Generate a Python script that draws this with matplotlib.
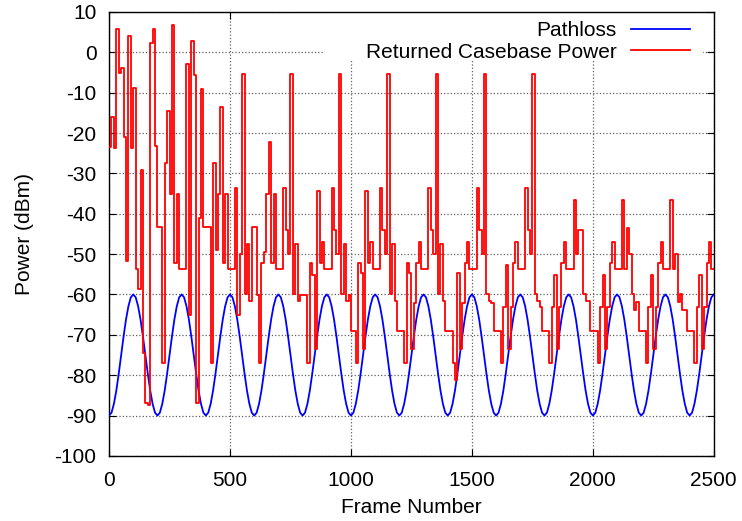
import numpy as np
import matplotlib
matplotlib.use('Agg')
import matplotlib.pyplot as plt
from matplotlib.patches import Rectangle

plt.rcParams['font.family'] = ['Liberation Sans', 'DejaVu Sans']
plt.rcParams['axes.unicode_minus'] = False

# pathloss over one 200-frame cycle, sampled every 10 frames (repeats across the run)
pathloss_cycle = [-90, -89.3, -87.1, -83.8, -79.6, -75, -70.4, -66.2, -62.9, -60.7,
                  -60, -60.7, -62.9, -66.2, -70.4, -75, -79.6, -83.8, -87.1, -89.3]

# returned casebase power, one value per 10 frames, frames 0..2490
casebase_power = [
    -23.4, -16, -23.8, 5.8, -5.2, -4, -21, -51.6, 4.1, -23.6,
    -8.9, -53.6, -58.6, -29.2, -74.6, -87, -87.3, 2.2, 5.8, -23.2,
    -43.2, -43.2, -77, -27.5, -14.5, -35, 6.8, -52.3, -35, -53.6,
    -53.6, -53.6, -3, -65, 2.8, -5.5, -87, -41, -9, -43.2,
    -43.2, -43.2, -77, -27.5, -49, -35, -13.5, -52.3, -35, -53.6,
    -53.6, -53.6, -33.6, -65, -50, -5.4, -59.8, -47.4, -61.7, -43.2,
    -43.2, -60.2, -77, -52.3, -49.4, -35, -22.1, -52.3, -35.2, -53.6,
    -53.6, -53.6, -33.6, -44, -50, -5.4, -59.8, -47.4, -61.7, -60.2,
    -60.2, -60.2, -77, -52.3, -55.2, -73.4, -34.4, -52.3, -47, -53.6,
    -53.6, -53.6, -33.6, -44, -50, -5.4, -59.8, -47.4, -61.7, -60.2,
    -69, -69, -77, -52.3, -54.8, -73.4, -34.4, -52.3, -47, -53.6,
    -53.6, -53.6, -33.6, -44, -50, -5.4, -59.8, -47.4, -61.7, -69,
    -69, -69, -77, -52.3, -54.8, -73.4, -62, -52.3, -47, -53.6,
    -53.6, -53.6, -33.6, -44, -50, -5.4, -59.8, -47.4, -61.7, -69,
    -69, -69, -77, -81.2, -54.8, -73.4, -62, -52.3, -47, -53.6,
    -53.6, -53.6, -33.6, -44, -50, -5.4, -59.8, -61.7, -62, -69,
    -69, -69, -77, -63, -52.7, -73.4, -63, -52.3, -47, -53.6,
    -53.6, -53.6, -33.6, -44, -50, -5.4, -59.8, -61.7, -63, -69,
    -69, -69, -77, -63, -55.2, -73.4, -63, -52.3, -47, -53.6,
    -53.6, -53.6, -36.6, -50, -44, -44, -59.8, -61.7, -61.7, -69,
    -69, -69, -77, -63, -55.2, -73.4, -63, -52.3, -47, -53.6,
    -53.6, -53.6, -36.6, -53.6, -43.6, -50, -59.8, -63.9, -61.8, -69,
    -69, -69, -77, -63, -55.2, -73.4, -63, -52.3, -47, -53.6,
    -53.6, -53.6, -36.6, -53.6, -50, -61.8, -59.8, -63.9, -63.9, -69,
    -69, -69, -77, -63, -55.2, -73.4, -63, -52.3, -47, -53.6,
]

x_ticks = [0, 500, 1000, 1500, 2000, 2500]
y_ticks = list(range(-100, 11, 10))

pathloss = np.concatenate([np.tile(pathloss_cycle, 12), pathloss_cycle[:11]])
pl_frames = np.arange(len(pathloss)) * 10

cb_frames = np.arange(len(casebase_power) + 1) * 10
cb_values = casebase_power + [casebase_power[-1]]

fig = plt.figure(figsize=(7.42, 5.21), dpi=100)
ax = fig.add_axes([0.147, 0.125, 0.815, 0.852])

ax.plot(pl_frames, pathloss, color='#0000ff', lw=1.3, label='Pathloss', zorder=3)
ax.step(cb_frames, cb_values, where='post', color='#ff0000', lw=1.3,
        label='Returned Casebase Power', zorder=3)

ax.set_xlim(0, 2500)
ax.set_ylim(-100, 10)
ax.set_xticks(x_ticks)
ax.set_yticks(y_ticks)
ax.tick_params(axis='both', direction='in', length=5, width=0.8, top=True, right=True,
               labelsize=15)
ax.tick_params(axis='x', pad=11)
ax.tick_params(axis='y', pad=9)
ax.grid(True, linestyle=':', color='#606060', lw=0.9)
ax.set_axisbelow(True)
for s in ax.spines.values():
    s.set_linewidth(1.0)

ax.set_xlabel('Frame Number', fontsize=15, labelpad=6)
ax.set_ylabel('Power (dBm)', fontsize=15, labelpad=15)

# opaque key area, as gnuplot blanks the grid behind the key
ax.add_patch(Rectangle((0.355, 0.892), 0.627, 0.108, transform=ax.transAxes,
                       facecolor='white', edgecolor='none', zorder=1.5))

leg = ax.legend(loc='upper right', bbox_to_anchor=(0.967, 0.988),
                markerfirst=False, frameon=False, fontsize=15,
                handlelength=2.8, handletextpad=0.7, borderaxespad=0.0,
                borderpad=0.2, labelspacing=0.1)

fig.savefig('out.png', dpi=100)
